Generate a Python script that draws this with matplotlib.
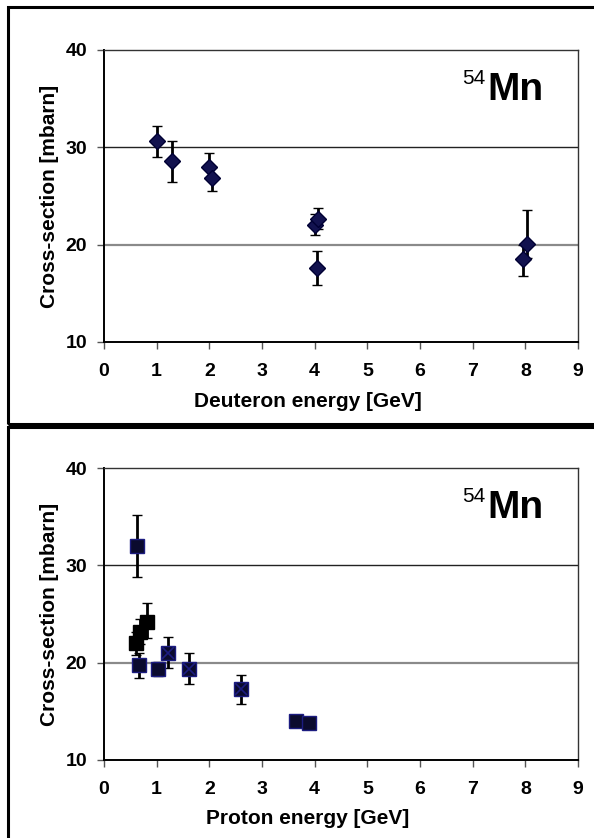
import matplotlib
matplotlib.use("Agg")
import matplotlib.pyplot as plt
from matplotlib.patches import Rectangle

plt.rcParams['font.family'] = ['Liberation Sans', 'DejaVu Sans']

# Deuteron data
d_x = [1.0, 1.3, 2.0, 2.06, 4.0, 4.07, 4.05, 8.03, 7.96]
d_y = [30.7, 28.6, 28.0, 26.8, 22.0, 22.6, 17.6, 20.1, 18.5]
d_lo = [1.7, 2.2, 1.2, 1.3, 1.0, 1.0, 1.7, 1.5, 1.7]
d_hi = [1.5, 2.1, 1.4, 1.2, 1.2, 1.2, 1.7, 3.5, 1.5]

# Proton data (blue-edged squares)
p_x = [0.62, 0.67, 1.02, 1.22, 1.61, 2.61, 3.65, 3.9]
p_y = [32.0, 19.8, 19.35, 21.0, 19.3, 17.25, 14.0, 13.8]
p_lo = [3.2, 1.4, 0.7, 1.6, 1.5, 1.5, 0.4, 0.6]
p_hi = [3.2, 1.2, 0.7, 1.6, 1.7, 1.45, 0.4, 0.6]

# Proton data (black squares)
pb_x = [0.60, 0.68, 0.81]
pb_y = [22.0, 23.2, 24.2]
pb_lo = [1.2, 1.3, 1.7]
pb_hi = [1.2, 1.3, 1.9]

# Points with X overlay
px_x = [1.22, 1.61, 2.61]
px_y = [21.0, 19.3, 17.25]

x_ticks = [0, 1, 2, 3, 4, 5, 6, 7, 8, 9]
y_ticks = [10, 20, 30, 40]

W, H = 594, 838
fig = plt.figure(figsize=(W / 100, H / 100), dpi=100)

def fx(px):
    return px / W

def fy(py):
    return 1 - py / H

ax1 = fig.add_axes([fx(104), fy(342), fx(578) - fx(104), fy(50) - fy(342)])
ax2 = fig.add_axes([fx(104), fy(759.7), fx(578) - fx(104), fy(468.4) - fy(759.7)])

def style(ax, xlabel):
    ax.set_xlim(0, 9)
    ax.set_ylim(10, 40)
    ax.set_xticks(x_ticks)
    ax.set_yticks(y_ticks)
    ax.axhline(30, color='#222222', lw=1.0, zorder=1)
    ax.axhline(20, color='#8a8a8a', lw=1.6, zorder=1)
    for s in ['left', 'bottom']:
        ax.spines[s].set_linewidth(1.4)
        ax.spines[s].set_color('black')
    for s in ['top', 'right']:
        ax.spines[s].set_linewidth(1.0)
        ax.spines[s].set_color('#333333')
    ax.tick_params(axis='both', direction='out', length=5, width=1.0,
                   color='#555555', labelsize=14)
    ax.tick_params(axis='x', pad=10)
    ax.tick_params(axis='y', pad=7)
    for lab in ax.get_xticklabels() + ax.get_yticklabels():
        lab.set_fontweight('bold')
    ax.set_xlabel(xlabel, fontsize=15, fontweight='bold')
    ax.xaxis.set_label_coords(0.43, -0.17)
    ax.set_ylabel('Cross-section [mbarn]', fontsize=15, fontweight='bold')
    ax.yaxis.set_label_coords(-0.095, 0.5)
    ax.text(0.755, 0.935, '54', transform=ax.transAxes, fontsize=15,
            ha='left', va='top')
    ax.text(0.808, 0.829, 'Mn', transform=ax.transAxes, fontsize=28,
            fontweight='bold', ha='left', va='baseline')

style(ax1, 'Deuteron energy [GeV]')
style(ax2, 'Proton energy [GeV]')

ax1.errorbar(d_x, d_y, yerr=[d_lo, d_hi], fmt='D', ms=8, mfc='#12124f',
             mec='#000033', mew=1.0, ecolor='black', elinewidth=2.0,
             capsize=3.5, capthick=2.2, zorder=3)

ax2.errorbar(pb_x, pb_y, yerr=[pb_lo, pb_hi], fmt='s', ms=10.5, mfc='black',
             mec='black', mew=1.0, ecolor='black', elinewidth=2.0,
             capsize=3.5, capthick=2.2, zorder=3)
ax2.errorbar(p_x, p_y, yerr=[p_lo, p_hi], fmt='s', ms=10.5, mfc='#0b0b2e',
             mec='#1c1c80', mew=1.0, ecolor='black', elinewidth=2.0,
             capsize=3.5, capthick=2.2, zorder=4)
ax2.plot(px_x, px_y, 'x', ms=9, mec='#1c1c80', mew=1.2, zorder=5, ls='none')

# outer chart borders
fig.patches.append(Rectangle((fx(8), fy(424)), 1.2, fy(7) - fy(424),
                             transform=fig.transFigure, fill=False,
                             lw=2.2, ec='black', zorder=10))
fig.patches.append(Rectangle((fx(8), fy(860)), 1.2, fy(427) - fy(860),
                             transform=fig.transFigure, fill=False,
                             lw=2.2, ec='black', zorder=10))

fig.savefig('out.png', dpi=100)
